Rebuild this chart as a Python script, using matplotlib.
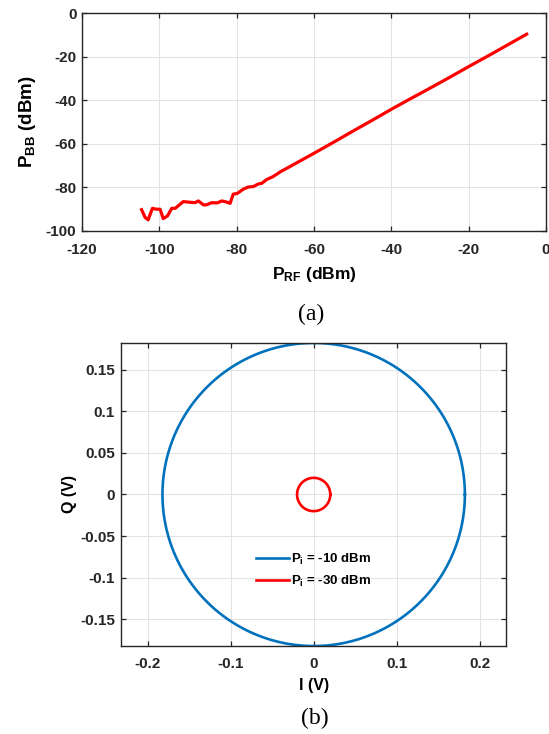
import numpy as np
import matplotlib.pyplot as plt
from matplotlib.ticker import FuncFormatter

plt.rcParams['font.family'] = 'Liberation Sans'
plt.rcParams['font.weight'] = 'bold'
plt.rcParams['axes.labelweight'] = 'bold'
plt.rcParams['axes.unicode_minus'] = False
plt.rcParams['mathtext.fontset'] = 'custom'
plt.rcParams['mathtext.rm'] = 'Liberation Sans:bold'
plt.rcParams['mathtext.bf'] = 'Liberation Sans:bold'
plt.rcParams['mathtext.it'] = 'Liberation Sans:bold'

# (a) baseband output power vs RF input power
p_rf = [-104.6, -103.7, -102.9, -101.8, -100.7, -99.8, -99.0, -97.9, -96.8, -95.9,
        -95.1, -93.8, -92.1, -90.8, -89.9, -88.6, -87.8, -86.5, -85.0, -83.9,
        -82.6, -81.7, -80.9, -79.8, -78.3, -77.0, -75.7, -74.4, -73.5, -72.2,
        -70.9, -69.6, -68.8, -66.2, -65.0, -60.0, -55.0, -50.0, -45.0, -40.0,
        -35.0, -30.0, -25.0, -20.0, -15.0, -10.0, -5.0]
p_bb = [-90.2, -93.7, -94.9, -89.6, -90.0, -90.0, -94.3, -93.1, -89.6, -89.6,
        -88.4, -86.5, -86.8, -87.0, -86.2, -88.0, -88.0, -87.0, -87.1, -86.2,
        -86.7, -87.3, -83.1, -82.7, -80.8, -79.8, -79.6, -78.4, -78.1, -76.3,
        -75.3, -73.9, -72.9, -70.4, -69.2, -64.3, -59.3, -54.2, -49.2, -44.1,
        -39.2, -34.4, -29.5, -24.5, -19.6, -14.6, -9.6]

# (b) I/Q constellation radius for two input powers
radius_hi = 0.182   # Pi = -10 dBm
radius_lo = 0.020   # Pi = -30 dBm

xt_a = [-120, -100, -80, -60, -40, -20, 0]
yt_a = [-100, -80, -60, -40, -20, 0]
xt_b = [-0.2, -0.1, 0, 0.1, 0.2]
yt_b = [-0.15, -0.1, -0.05, 0, 0.05, 0.1, 0.15]

fig = plt.figure(figsize=(5.49, 7.34), dpi=100)

grid_kw = dict(color='#e3e3e3', linewidth=0.8)


def style_axes(ax):
    for s in ax.spines.values():
        s.set_color('#262626')
        s.set_linewidth(1.0)
    ax.tick_params(direction='in', top=True, right=True, length=3.5,
                   width=0.9, color='#262626', labelsize=11, labelcolor='#262626')
    ax.grid(True, **grid_kw)
    ax.set_axisbelow(True)


ax1 = fig.add_axes([0.1494, 0.6853, 0.8451, 0.2966])
ax1.plot(p_rf, p_bb, color='#ff0000', linewidth=2.3)
ax1.set_xlim(-120, 0)
ax1.set_ylim(-100, 0)
ax1.set_xticks(xt_a)
ax1.set_yticks(yt_a)
style_axes(ax1)
ax1.tick_params(axis='x', pad=8.5)
ax1.tick_params(axis='y', pad=4)
ax1.set_xlabel(r'$\mathbf{P_{RF}}$ (dBm)', fontsize=12.5, labelpad=6)
ax1.set_ylabel(r'$\mathbf{P_{BB}}$ (dBm)', fontsize=13.5, labelpad=6)

ax2 = fig.add_axes([0.2210, 0.1195, 0.7007, 0.4136])
t = np.linspace(0, 2 * np.pi, 400)
ax2.plot(radius_hi * np.cos(t), radius_hi * np.sin(t), color='#0072BD',
         linewidth=1.9, label=r'$\mathbf{P_{i}}$ = -10 dBm')
ax2.plot(radius_lo * np.cos(t), radius_lo * np.sin(t), color='#ff0000',
         linewidth=1.9, label=r'$\mathbf{P_{i}}$ = -30 dBm')
ax2.set_xlim(-0.2315, 0.2315)
ax2.set_ylim(-0.1823, 0.1823)
ax2.set_xticks(xt_b)
ax2.set_yticks(yt_b)
fmt = FuncFormatter(lambda v, pos: '%g' % round(v, 3))
ax2.xaxis.set_major_formatter(fmt)
ax2.yaxis.set_major_formatter(fmt)
style_axes(ax2)
ax2.tick_params(axis='x', pad=8)
ax2.tick_params(axis='y', pad=4.5)
ax2.set_xlabel('I (V)', fontsize=11.5, labelpad=5)
ax2.set_ylabel('Q (V)', fontsize=11.5, labelpad=2)
ax2.legend(loc='center', bbox_to_anchor=(0.5, 0.25), frameon=False,
           fontsize=9.5, handlelength=2.5, handletextpad=0.2, labelspacing=0.5)

fig.text(0.566, 1 - 314 / 734, '(a)', family='Liberation Serif', weight='normal',
         fontsize=17, ha='center', va='center')
fig.text(0.574, 1 - 718 / 734, '(b)', family='Liberation Serif', weight='normal',
         fontsize=17, ha='center', va='center')

fig.savefig('out.png', dpi=100)
